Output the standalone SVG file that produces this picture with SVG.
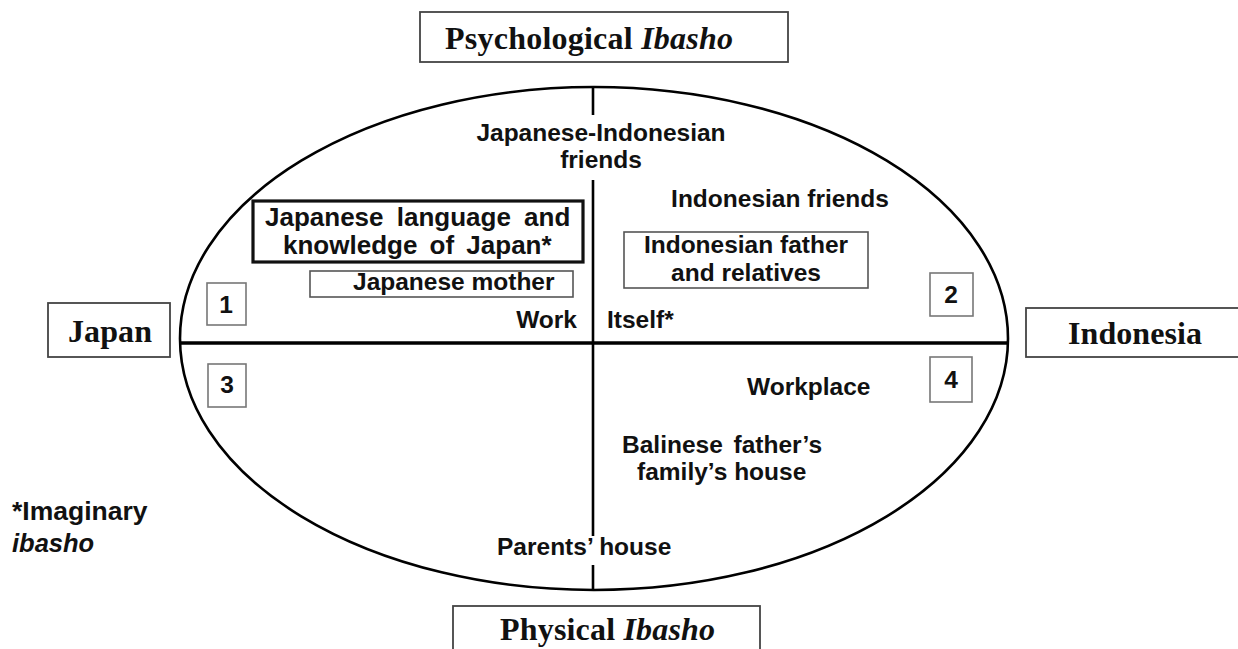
<svg xmlns="http://www.w3.org/2000/svg" width="1238" height="649" viewBox="0 0 1238 649">
<style>
.serif{font-family:"Liberation Serif","Times New Roman",serif;font-weight:bold;font-size:32px;fill:#111}
.sans{font-family:"Liberation Sans",Arial,sans-serif;font-weight:bold;font-size:24.5px;fill:#111}
.lbox{fill:#fff;stroke:#444;stroke-width:1.8}
.ibox{fill:none;stroke:#555;stroke-width:1.6}
.nbox{fill:#fff;stroke:#777;stroke-width:1.6}
.ln{stroke:#000;fill:none}
.mid{text-anchor:middle}
</style>
<rect width="1238" height="649" fill="#fff"/>
<g id="connectors">
<ellipse cx="594" cy="338.5" rx="414" ry="251.5" class="ln" stroke-width="2.6"/>
<line x1="180" y1="343" x2="1008" y2="343" class="ln" stroke-width="3.5"/>
<line x1="593" y1="88" x2="593" y2="115" class="ln" stroke-width="2.6"/>
<line x1="593" y1="180" x2="593" y2="536" class="ln" stroke-width="2.6"/>
<line x1="593" y1="565" x2="593" y2="590" class="ln" stroke-width="2.6"/>
</g>
<g id="psychological">
<rect x="420" y="12" width="368" height="50" class="lbox"/>
<text x="445" y="49" class="serif" textLength="288">Psychological <tspan font-style="italic">Ibasho</tspan></text>
</g>
<g id="physical">
<rect x="453" y="606" width="307" height="50" class="lbox"/>
<text x="500" y="640" class="serif" textLength="215">Physical <tspan font-style="italic">Ibasho</tspan></text>
</g>
<g id="japan">
<rect x="48" y="303" width="122" height="54" class="lbox"/>
<text x="68" y="342" class="serif" textLength="84">Japan</text>
</g>
<g id="indonesia">
<rect x="1026" y="308" width="220" height="49" class="lbox"/>
<text x="1068" y="344" class="serif" textLength="134">Indonesia</text>
</g>
<g id="q1">
<rect x="207" y="283" width="39" height="42" class="nbox"/>
<text x="226" y="313" class="sans mid">1</text>
</g>
<g id="q2">
<rect x="930" y="273" width="43" height="43" class="nbox"/>
<text x="951" y="303" class="sans mid">2</text>
</g>
<g id="q3">
<rect x="208" y="364" width="38" height="43" class="nbox"/>
<text x="227" y="393" class="sans mid">3</text>
</g>
<g id="q4">
<rect x="930" y="357" width="42" height="45" class="nbox"/>
<text x="951" y="388" class="sans mid">4</text>
</g>
<g id="jp-indo-friends">
<text x="601" y="141" class="sans mid">Japanese-Indonesian</text>
<text x="601" y="168" class="sans mid">friends</text>
</g>
<g id="indo-friends">
<text x="780" y="207" class="sans mid">Indonesian friends</text>
</g>
<g id="jp-language">
<rect x="253" y="201" width="330" height="61" fill="none" stroke="#111" stroke-width="3.2"/>
<text x="265" y="226" class="sans" style="font-size:26px" word-spacing="6">Japanese language and</text>
<text x="283" y="254" class="sans" style="font-size:26px" word-spacing="5">knowledge of Japan*</text>
</g>
<g id="jp-mother">
<rect x="310" y="271" width="263" height="26" class="ibox"/>
<text x="353" y="290" class="sans">Japanese mother</text>
</g>
<g id="indo-father">
<rect x="624" y="232" width="244" height="56" class="ibox"/>
<text x="746" y="253" class="sans mid">Indonesian father</text>
<text x="746" y="281" class="sans mid">and relatives</text>
</g>
<g id="work">
<text x="577" y="328" class="sans" text-anchor="end">Work</text>
</g>
<g id="itself">
<text x="607" y="328" class="sans">Itself*</text>
</g>
<g id="workplace">
<text x="747" y="395" class="sans">Workplace</text>
</g>
<g id="balinese">
<text x="622" y="453" class="sans" word-spacing="4">Balinese father’s</text>
<text x="637" y="480" class="sans">family’s house</text>
</g>
<g id="parents">
<text x="497" y="555" class="sans">Parents’ house</text>
</g>
<g id="note">
<text x="12" y="520" class="sans" style="font-size:26.5px">*Imaginary</text>
<text x="12" y="552" class="sans" style="font-size:25.5px;font-style:italic">ibasho</text>
</g>
</svg>
